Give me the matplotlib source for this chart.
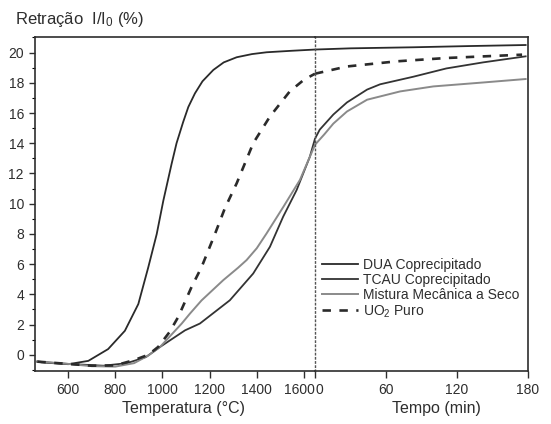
import matplotlib
matplotlib.use("Agg")
import matplotlib.pyplot as plt
from matplotlib.ticker import MultipleLocator, FixedLocator
from matplotlib.transforms import ScaledTranslation

plt.rcParams['font.family'] = ['Liberation Sans', 'DejaVu Sans']
plt.rcParams['mathtext.fontset'] = 'custom'
plt.rcParams['mathtext.rm'] = 'Liberation Sans'
plt.rcParams['mathtext.it'] = 'Liberation Sans:italic'

INK = '#2e2e2e'

# ---- data: temperature part (°C) ----
dua_T = [470, 488, 601, 686, 770, 841, 898, 940, 976, 1004, 1039, 1060, 1088, 1110, 1138, 1170, 1216, 1260, 1315, 1380, 1442, 1550, 1647]
dua_y = [-0.45, -0.5, -0.62, -0.4, 0.38, 1.59, 3.36, 5.78, 7.99, 10.2, 12.63, 14.0, 15.4, 16.4, 17.3, 18.1, 18.85, 19.35, 19.69, 19.9, 20.02, 20.12, 20.2]
# time part (min)
dua_t = [0, 30, 83, 130, 178]
dua_ty = [20.2, 20.28, 20.35, 20.43, 20.5]

tcau_T = [470, 600, 750, 850, 930, 990, 1096, 1159, 1286, 1385, 1456, 1512, 1569, 1625, 1647]
tcau_y = [-0.45, -0.6, -0.72, -0.55, -0.15, 0.52, 1.62, 2.07, 3.61, 5.38, 7.15, 9.14, 10.9, 13.1, 14.3]
tcau_t = [0, 4, 15.5, 27, 44, 55, 83, 111, 142, 178]
tcau_ty = [14.3, 14.9, 15.9, 16.7, 17.55, 17.9, 18.4, 18.95, 19.35, 19.75]

mist_T = [470, 600, 700, 800, 880, 940, 990, 1082, 1117, 1166, 1258, 1320, 1357, 1400, 1442, 1512, 1583, 1647]
mist_y = [-0.45, -0.6, -0.75, -0.78, -0.55, -0.05, 0.52, 2.07, 2.73, 3.6, 4.94, 5.75, 6.27, 7.05, 8.04, 9.77, 11.57, 13.9]
mist_t = [0, 8, 15.5, 27, 44, 72, 100, 142, 178]
mist_ty = [13.9, 14.6, 15.3, 16.1, 16.88, 17.43, 17.76, 18.02, 18.25]

uo2_T = [470, 600, 700, 800, 880, 940, 982, 1030, 1067, 1124, 1166, 1223, 1265, 1315, 1385, 1456, 1540, 1600, 1647]
uo2_y = [-0.45, -0.6, -0.72, -0.7, -0.35, 0.0, 0.52, 1.5, 2.5, 4.5, 5.8, 8.0, 9.7, 11.35, 14.0, 15.77, 17.43, 18.2, 18.6]
uo2_t = [0, 27, 69, 111, 175]
uo2_ty = [18.6, 19.08, 19.42, 19.64, 19.86]

labels = ['DUA Coprecipitado', 'TCAU Coprecipitado', 'Mistura Mecânica a Seco', 'UO$_2$ Puro']
temp_ticks = [600, 800, 1000, 1200, 1400, 1600]
time_ticks = [0, 60, 120, 180]
y_ticks = [0, 2, 4, 6, 8, 10, 12, 14, 16, 18, 20]

W, H = 551, 424
fig = plt.figure(figsize=(W / 100, H / 100), dpi=100)
fig.patch.set_facecolor('white')

L, B, R, T = 35, 371, 528, 37
X0 = 315
ax1 = fig.add_axes([L / W, 1 - B / H, (X0 - L) / W, (B - T) / H])
ax2 = fig.add_axes([X0 / W, 1 - B / H, (R - X0) / W, (B - T) / H], sharey=ax1)

styles = [dict(color='#2a2a2a', lw=1.3, ls='-'),
          dict(color='#333333', lw=1.3, ls='-'),
          dict(color='#8a8a8a', lw=1.4, ls='-'),
          dict(color='#2a2a2a', lw=1.9, ls=(0, (3.2, 3.2)))]

series_T = [(dua_T, dua_y), (tcau_T, tcau_y), (mist_T, mist_y), (uo2_T, uo2_y)]
series_t = [(dua_t, dua_ty), (tcau_t, tcau_ty), (mist_t, mist_ty), (uo2_t, uo2_ty)]

handles = []
for (x, y), st, lab in zip(series_T, styles, labels):
    h, = ax1.plot(x, y, label=lab, **st)
    handles.append(h)
for (x, y), st in zip(series_t, styles):
    ax2.plot(x, y, **st)

ax1.set_xlim(460, 1647)
ax2.set_xlim(0, 180)
ax1.set_ylim(-1.07, 21.03)

for ax in (ax1, ax2):
    for s in ax.spines.values():
        s.set_color(INK)
        s.set_linewidth(1.2)
    ax.tick_params(colors=INK, labelcolor=INK, labelsize=10, direction='out')

ax1.spines['right'].set_visible(False)
ax2.spines['left'].set_linestyle((0, (1, 2)))
ax2.spines['left'].set_linewidth(1.0)
ax2.spines['left'].set_color('#555555')

ax1.xaxis.set_major_locator(FixedLocator(temp_ticks))
ax1.yaxis.set_major_locator(FixedLocator(y_ticks))
ax1.yaxis.set_minor_locator(MultipleLocator(1))
ax1.tick_params(axis='x', length=5, width=1.0, pad=4)
ax1.tick_params(axis='y', which='major', length=4, width=1.0, pad=4)
ax1.tick_params(axis='y', which='minor', length=2, width=0.8)
ax2.xaxis.set_major_locator(FixedLocator(time_ticks))
ax2.tick_params(axis='x', length=5, width=1.0, pad=4)
ax2.tick_params(axis='y', which='both', left=False, labelleft=False)

ax1.set_xlabel('Temperatura (°C)', fontsize=11.5, color=INK, labelpad=1)
ax1.xaxis.set_label_coords(0.53, -0.09)
ax2.set_xlabel('Tempo (min)', fontsize=11.5, color=INK, labelpad=1)
ax2.xaxis.set_label_coords(0.57, -0.09)

fig.text(15 / W, 1 - 24 / H, 'Retração  I/I$_0$ (%)', fontsize=12, color=INK,
         ha='left', va='baseline')

leg = ax2.legend(handles=handles, loc='upper left', bbox_to_anchor=((322 - X0) / (R - X0), 1 - (258 - T) / (B - T)),
                 frameon=False, fontsize=10, handlelength=2.6, handletextpad=0.35,
                 labelspacing=0.08, borderpad=0, borderaxespad=0)
for t in leg.get_texts():
    t.set_color(INK)

# nudge the two adjacent tick labels at the axis junction apart ("1600" and "0")
fig.canvas.draw()
ax1.get_xticklabels()[-1].set_transform(
    ax1.get_xticklabels()[-1].get_transform() + ScaledTranslation(-4 / 100, 0, fig.dpi_scale_trans))
ax2.get_xticklabels()[0].set_transform(
    ax2.get_xticklabels()[0].get_transform() + ScaledTranslation(4 / 100, 0, fig.dpi_scale_trans))

fig.savefig('out.png', dpi=100)
